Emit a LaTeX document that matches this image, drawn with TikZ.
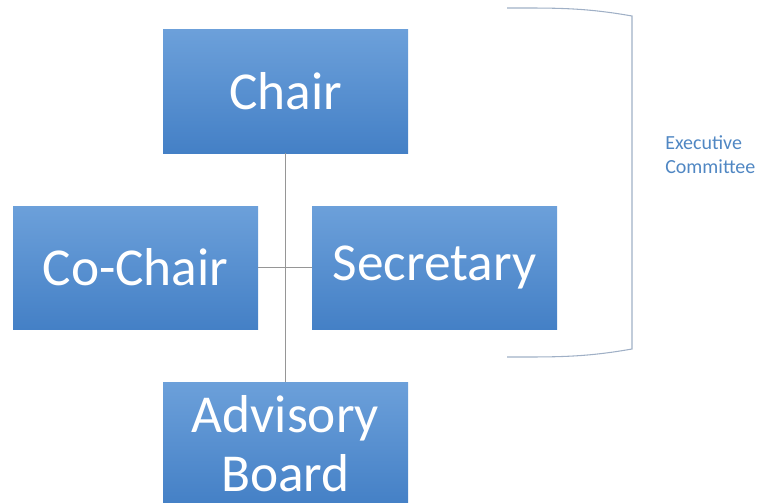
\documentclass[tikz,border=0pt]{standalone}
\usepackage{fontspec}
\setmainfont{Carlito}
\usepackage{tikz}
\definecolor{boxtop}{RGB}{108,160,218}
\definecolor{boxbot}{RGB}{68,128,198}
\definecolor{linkgray}{RGB}{150,150,150}
\definecolor{bracegray}{RGB}{160,176,198}
\definecolor{labelblue}{RGB}{80,135,195}

\begin{document}
\begin{tikzpicture}[x=0.75pt,y=-0.75pt,
  post/.style={rectangle,top color=boxtop,bottom color=boxbot,text=white,
    minimum width=183.75pt,minimum height=92.25pt,inner sep=0pt,align=center,
    font=\fontsize{40}{44}\selectfont}]
\useasboundingbox (0,0) rectangle (757,503);
\node [post] (chair) at(285.5,91.5){Chair};
\node [post] (cochair) at(135.5,267.5){Co-Chair};
\node [post] (secretary) at(434.5,267.5){Secretary};
\node [post] (advisory) at(285.5,443.5){Advisory\\Board};
\draw [linkgray,line width=0.8pt] (chair) -- (advisory);
\draw [linkgray,line width=0.8pt] (cochair) -- (secretary);
% executive committee bracket
\draw [bracegray,line width=0.8pt] (507,8) to[out=0,in=170] (632,16) -- (632,349) to[out=190,in=0] (507,357);
\node [text=labelblue,align=left,anchor=west,inner sep=0pt,font=\fontsize{15}{18}\selectfont] (exec) at(665,155){Executive\\Committee};
\end{tikzpicture}
\end{document}
